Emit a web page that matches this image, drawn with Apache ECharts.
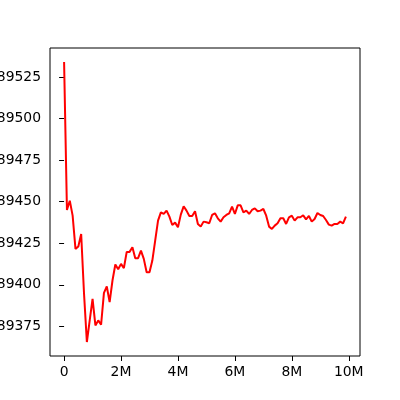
<!DOCTYPE html>
<html>
<head>
<meta charset="utf-8">
<script src="https://cdn.jsdelivr.net/npm/echarts@6/dist/echarts.min.js"></script>
<style>html,body{margin:0;padding:0;background:#fff;}#c{width:400px;height:400px;}</style>
</head>
<body>
<div id="c"></div>
<script>
// x positions in millions
var xMillions = [0,0.1,0.2,0.3,0.4,0.5,0.6,0.7,0.8,0.9,
  1.0,1.1,1.2,1.3,1.4,1.5,1.6,1.7,1.8,1.9,
  2.0,2.1,2.2,2.3,2.4,2.5,2.6,2.7,2.8,2.9,
  3.0,3.1,3.2,3.3,3.4,3.5,3.6,3.7,3.8,3.9,
  4.0,4.1,4.2,4.3,4.4,4.5,4.6,4.7,4.8,4.9,
  5.0,5.1,5.2,5.3,5.4,5.5,5.6,5.7,5.8,5.9,
  6.0,6.1,6.2,6.3,6.4,6.5,6.6,6.7,6.8,6.9,
  7.0,7.1,7.2,7.3,7.4,7.5,7.6,7.7,7.8,7.9,
  8.0,8.1,8.2,8.3,8.4,8.5,8.6,8.7,8.8,8.9,
  9.0,9.1,9.2,9.3,9.4,9.5,9.6,9.7,9.8,9.9];
var yValues = [89534,89445,89450.6,89441.6,89421.6,89423,89430.6,89394.8,89365.6,89378.6,
  89391.6,89375.6,89378.6,89376,89395.2,89399,89389.6,89402.6,89412.2,89409.4,
  89412.6,89410,89419.8,89419.8,89422.6,89416,89416,89420.6,89415.6,89407.6,
  89407.6,89414.6,89426.6,89438.6,89443.6,89442.6,89444.6,89441,89436,89437.4,
  89434.6,89442.2,89447.2,89444.6,89441.4,89441.4,89444.2,89436.6,89435,89438,
  89437.6,89437,89442,89443,89440,89438,89440.6,89442,89443,89447,
  89442.6,89447.8,89447.8,89443.6,89444.6,89442.6,89445,89446,89444.2,89444.6,
  89445.6,89441.6,89435,89433.6,89435.6,89437,89440,89440,89436.6,89440.6,
  89441.6,89438.6,89440.6,89440.6,89441.8,89439.4,89441.4,89438,89439.6,89443.2,
  89442,89441.4,89439,89436.2,89435.6,89436.6,89436.6,89438,89437,89441];
var xTicks = [0,2000000,4000000,6000000,8000000,10000000];
var xTickLabels = ['0','2M','4M','6M','8M','10M'];
var yTicks = [89375,89400,89425,89450,89475,89500,89525];

var pts = xMillions.map(function(x,i){ return [x*1e6, yValues[i]]; });
var chart = echarts.init(document.getElementById('c'), null, {renderer:'canvas'});
var font = 'DejaVu Sans';
chart.setOption({
  animation:false,
  backgroundColor:'#fff',
  grid:{left:50,right:40,top:48,bottom:44,containLabel:false,outerBoundsMode:'none',
    show:true,borderColor:'#000',borderWidth:1,backgroundColor:'transparent'},
  xAxis:{type:'value',min:-495000,max:10395000,
    splitLine:{show:false},
    axisLine:{show:false},
    axisTick:{show:true,length:5,lineStyle:{color:'#000',width:1},customValues:xTicks},
    axisLabel:{color:'#000',fontFamily:font,fontSize:13.9,margin:9,customValues:xTicks,
      formatter:function(v){var i=xTicks.indexOf(v);return i>=0?xTickLabels[i]:'';}}
  },
  yAxis:{type:'value',min:89357.2,max:89542.4,
    splitLine:{show:false},
    axisLine:{show:false},
    axisTick:{show:true,length:5,lineStyle:{color:'#000',width:1},customValues:yTicks},
    axisLabel:{color:'#000',fontFamily:font,fontSize:13.9,margin:9,customValues:yTicks,
      formatter:function(v){return String(v);}}
  },
  series:[{type:'line',data:pts,showSymbol:false,symbol:'none',
    lineStyle:{color:'#ff0000',width:2},itemStyle:{color:'#ff0000'}}]
});
</script>
</body>
</html>
